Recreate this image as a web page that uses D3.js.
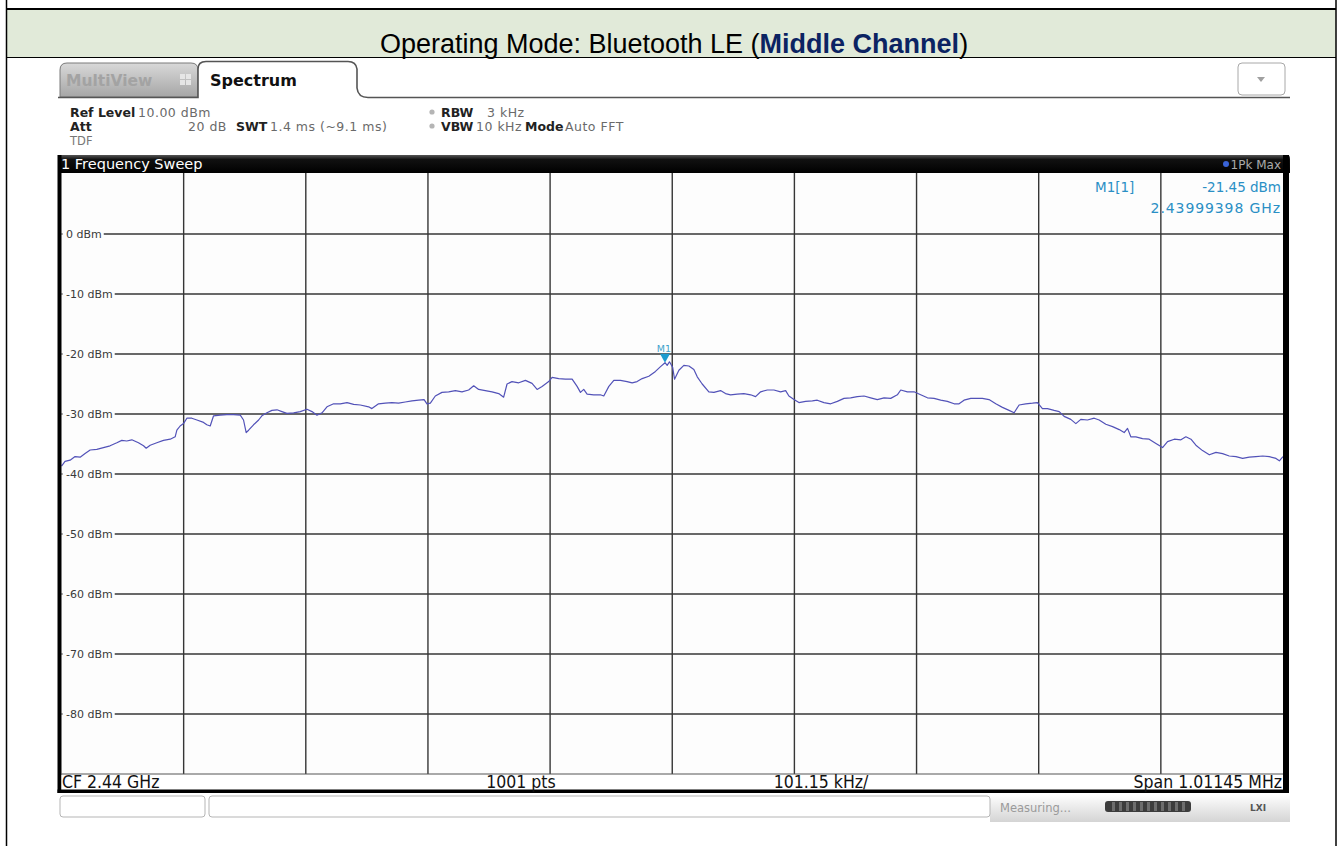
<!DOCTYPE html>
<html><head><meta charset="utf-8">
<script src="https://cdn.jsdelivr.net/npm/d3@7"></script>
<style>
html,body{margin:0;padding:0;background:#fff;}
svg{display:block;}
</style></head><body>
<svg id="c" width="1338" height="846"></svg>
<script>
// ---------------- data ----------------
const titlePlain = "Operating Mode: Bluetooth LE (";
const titleBold = "Middle Channel";
const titleEnd = ")";

const yTickValues = [0, -10, -20, -30, -40, -50, -60, -70, -80];
const yTickLabels = ["0 dBm", "-10 dBm", "-20 dBm", "-30 dBm", "-40 dBm", "-50 dBm", "-60 dBm", "-70 dBm", "-80 dBm"];
const refLevelDBm = 10;
const bottomLevelDBm = -90;
const spanKHz = 1011.45;
const divisions = 10;

// trace: frequency offset from CF (kHz) and level (dBm)
const freqKHz = [
-505.7,-502.8,-498.6,-494.5,-490.3,-486.2,-482.0,-476.5,-471.0,-465.5,-459.9,-455.8,-451.7,-447.5,-442.0,-437.8,-435.6,-432.3,-426.8,-421.3,
-415.7,-411.6,-410.2,-407.5,-404.7,-401.9,-397.8,-393.6,-388.1,-385.4,-382.6,-379.8,-374.3,-368.8,-363.3,-357.7,-355.0,-352.8,-350.8,-346.7,
-342.5,-339.8,-335.6,-331.5,-327.3,-323.2,-319.1,-313.5,-308.0,-302.5,-298.3,-294.2,-290.0,-285.9,-280.4,-274.9,-269.3,-263.8,-258.3,-251.4,
-248.7,-243.2,-237.6,-232.1,-226.6,-221.1,-215.5,-210.0,-205.5,-203.1,-200.3,-196.2,-190.7,-185.1,-179.6,-174.1,-168.6,-164.4,-160.3,-154.8,
-149.2,-143.7,-139.6,-136.8,-132.7,-127.1,-121.6,-116.1,-111.9,-107.8,-102.3,-99.5,-94.0,-88.5,-82.9,-78.8,-76.0,-73.3,-70.5,-65.0,
-59.5,-56.7,-52.5,-48.4,-42.9,-37.4,-33.2,-29.1,-24.9,-19.4,-13.9,-9.7,-6.0,-4.2,-2.3,0.3,1.9,
5.5,9.6,13.8,17.9,20.7,24.8,30.3,34.5,40.0,44.1,48.3,53.8,59.3,64.9,69.0,73.2,78.7,84.2,89.7,93.9,
96.6,100.8,104.9,110.4,116.0,120.1,125.6,131.2,136.7,142.2,147.7,153.2,158.8,164.3,169.8,175.4,180.9,186.4,189.2,194.7,
200.2,205.7,211.3,216.8,222.3,227.8,233.4,237.5,241.6,247.2,254.1,
256.8,262.3,267.9,273.4,278.9,283.1,287.2,292.7,298.3,302.4,306.5,310.7,316.2,320.4,324.5,330.0,334.2,338.3,343.8,349.4,
353.5,359.0,364.6,370.1,374.2,377.0,379.7,383.9,389.4,394.9,400.5,406.0,410.1,415.7,421.2,425.3,429.5,433.6,439.1,444.7,
450.2,455.7,461.2,466.8,472.3,477.8,483.3,488.9,494.4,499.9,502.7,505.7
];
const levelDBm = [
-38.7,-37.9,-37.7,-37.1,-37.2,-36.6,-36.0,-35.9,-35.6,-35.3,-34.8,-34.4,-34.5,-34.3,-34.8,-35.3,-35.7,-35.2,-34.8,-34.4,
-34.2,-33.8,-32.7,-32.0,-31.6,-30.7,-30.7,-31.0,-31.4,-31.8,-32.0,-30.3,-30.2,-30.1,-30.1,-30.2,-31.0,-33.1,-32.7,-31.8,
-31.0,-30.3,-29.8,-29.4,-29.3,-29.6,-29.9,-29.8,-29.6,-29.2,-29.6,-30.2,-29.8,-28.8,-28.3,-28.3,-28.1,-28.4,-28.5,-28.8,
-29.1,-28.3,-28.2,-28.1,-28.2,-28.0,-27.8,-27.7,-27.6,-28.3,-28.2,-27.0,-26.4,-26.3,-26.1,-26.3,-26.0,-25.3,-25.9,-26.1,
-26.3,-26.6,-27.2,-25.0,-24.6,-24.8,-24.4,-24.9,-25.9,-25.4,-24.6,-23.9,-24.1,-24.2,-24.2,-25.4,-26.4,-25.9,-26.7,-26.8,
-26.8,-27.0,-25.4,-24.4,-24.4,-24.6,-24.8,-24.6,-24.1,-23.7,-22.9,-22.1,-21.45,-21.9,-21.3,-22.2,-24.2,
-22.7,-21.9,-22.0,-22.6,-23.8,-25.0,-26.3,-26.4,-26.1,-26.6,-26.8,-26.7,-26.6,-26.8,-27.1,-26.3,-26.0,-26.0,-26.3,-26.1,
-27.0,-27.6,-28.1,-27.9,-27.8,-27.7,-28.1,-28.3,-27.9,-27.4,-27.3,-27.1,-27.0,-27.3,-27.6,-27.3,-27.4,-26.8,-26.0,-26.3,
-26.3,-26.8,-27.3,-27.4,-27.7,-27.9,-28.3,-28.3,-27.7,-27.4,-27.4,
-27.4,-27.6,-28.3,-28.9,-29.4,-29.8,-28.5,-28.3,-28.2,-28.1,-29.1,-29.1,-29.4,-29.6,-30.4,-30.9,-31.6,-30.9,-31.0,-30.7,
-31.0,-31.7,-32.1,-32.6,-33.1,-32.4,-33.8,-33.8,-34.1,-34.2,-34.9,-35.6,-34.6,-34.2,-34.3,-33.8,-34.2,-35.2,-36.1,-36.8,
-36.4,-36.6,-37.0,-37.1,-37.4,-37.2,-37.1,-37.0,-37.1,-37.4,-37.8,-37.1
];

const markerName = "M1";
const markerFreqKHz = -6.02;
const markerLevelDBm = -21.45;
const markerReadout = ["M1[1]", "-21.45 dBm", "2.43999398 GHz"];

const infoRow1 = [["Ref Level", true, 70], ["10.00 dBm", false, 138], ["RBW", true, 441], ["3 kHz", false, 487]];
const infoRow2 = [["Att", true, 70], ["20 dB", false, 188], ["SWT", true, 236], ["1.4 ms (~9.1 ms)", false, 270], ["VBW", true, 441], ["10 kHz", false, 476], ["Mode", true, 525], ["Auto FFT", false, 565]];
const footer = ["CF 2.44 GHz", "1001 pts", "101.15 kHz/", "Span 1.01145 MHz"];

// ---------------- drawing ----------------
const svg = d3.select("#c");
const defs = svg.append("defs");
const g1 = defs.append("linearGradient").attr("id","tabg").attr("x1",0).attr("y1",0).attr("x2",0).attr("y2",1);
g1.append("stop").attr("offset","0").attr("stop-color","#d9d9d9");
g1.append("stop").attr("offset","1").attr("stop-color","#a6a6a6");
const g2 = defs.append("linearGradient").attr("id","barg").attr("x1",0).attr("y1",0).attr("x2",0).attr("y2",1);
g2.append("stop").attr("offset","0").attr("stop-color","#555");
g2.append("stop").attr("offset","0.25").attr("stop-color","#111");
g2.append("stop").attr("offset","1").attr("stop-color","#000");
const g3 = defs.append("linearGradient").attr("id","stg").attr("x1",0).attr("y1",0).attr("x2",0).attr("y2",1);
g3.append("stop").attr("offset","0").attr("stop-color","#ffffff");
g3.append("stop").attr("offset","1").attr("stop-color","#d4d4d4");

// document table frame + green heading
svg.append("rect").attr("x",6).attr("y",9).attr("width",1330).attr("height",48).attr("fill","#e1ead9");
svg.append("line").attr("x1",6).attr("x2",1336).attr("y1",9).attr("y2",9).attr("stroke","#000").attr("stroke-width",2);
svg.append("line").attr("x1",6).attr("x2",1336).attr("y1",57.5).attr("y2",57.5).attr("stroke","#000").attr("stroke-width",1);
svg.append("line").attr("x1",6.5).attr("x2",6.5).attr("y1",0).attr("y2",846).attr("stroke","#000").attr("stroke-width",1.5);
svg.append("line").attr("x1",1336).attr("x2",1336).attr("y1",0).attr("y2",846).attr("stroke","#000").attr("stroke-width",1.5);

const title = svg.append("text").attr("x",674).attr("y",53).attr("text-anchor","middle")
  .attr("font-family","'Liberation Sans', Arial, sans-serif").attr("font-size",27).attr("fill","#000");
title.append("tspan").text(titlePlain);
title.append("tspan").attr("font-weight","bold").attr("fill","#0b2362").text(titleBold);
title.append("tspan").text(titleEnd);

// instrument screenshot chrome
const UI = "'DejaVu Sans', Verdana, sans-serif";
svg.append("path").attr("d","M60,97 V70 Q60,63 67,63 H191 Q198,63 198,70 V97 Z").attr("fill","url(#tabg)").attr("stroke","#7a7a7a").attr("stroke-width",1);
svg.append("text").attr("x",66).attr("y",86).attr("font-family",UI).attr("font-weight","bold").attr("font-size",15.5).attr("fill","#a3a3a3").text("MultiView");
[[180,74],[186,74],[180,80],[186,80]].forEach(p=>svg.append("rect").attr("x",p[0]).attr("y",p[1]).attr("width",5).attr("height",5).attr("fill","#e6e6e6"));
svg.append("path").attr("d","M58,97.5 H198 V69 Q198,61.5 206,61.5 H348 Q356,61.5 357,69 V88 Q358,97.5 368,97.5 H1290")
  .attr("fill","#fff").attr("stroke","#555").attr("stroke-width",1.6);
svg.append("text").attr("x",210).attr("y",86).attr("font-family",UI).attr("font-weight","bold").attr("font-size",16).attr("fill","#111").text("Spectrum");
svg.append("rect").attr("x",1238).attr("y",63).attr("width",47).attr("height",32).attr("rx",4).attr("fill","#fff").attr("stroke","#a8a8a8");
svg.append("path").attr("d","M1257,77 L1265,77 L1261,82 Z").attr("fill","#a0a0a0");

function infoRow(items, yy){
  items.forEach(it=>{
    const t = svg.append("text").attr("x",it[2]).attr("y",yy).attr("font-family",UI)
      .attr("font-weight",it[1]?"bold":"normal").attr("fill",it[1]?"#222":"#6a6a6a").text(it[0]);
    if (it[1]) t.attr("font-size",12.5);
    else t.attr("font-size",12.5).attr("letter-spacing",0.5);
  });
}
infoRow(infoRow1,117);
infoRow(infoRow2,131);
svg.append("text").attr("x",70).attr("y",145).attr("font-family",UI).attr("font-size",11.5).attr("fill","#777").text("TDF");
[[432,112],[432,126]].forEach(p=>svg.append("circle").attr("cx",p[0]).attr("cy",p[1]).attr("r",2.6).attr("fill","#b5b5b5"));

svg.append("path").attr("d","M58,173 V158 Q58,155 61,155 H1287 Q1290,155 1290,158 V173 Z").attr("fill","url(#barg)");
svg.append("text").attr("x",61).attr("y",169).attr("font-family",UI).attr("font-size",14.5).attr("fill","#fff").text("1 Frequency Sweep");
svg.append("circle").attr("cx",1226).attr("cy",164).attr("r",3).attr("fill","#3a64d8");
svg.append("text").attr("x",1281).attr("y",169).attr("text-anchor","end").attr("font-family",UI).attr("font-size",12).attr("fill","#aaa").text("1Pk Max");

// plot area
const pL = 61.5, pR = 1283, pT = 174, pB = 774;
const x = d3.scaleLinear().domain([-spanKHz/2, spanKHz/2]).range([pL, pR]);
const y = d3.scaleLinear().domain([bottomLevelDBm, refLevelDBm]).range([pB, pT]);

svg.append("rect").attr("x",pL).attr("y",173).attr("width",pR-pL).attr("height",pB-173).attr("fill","#fdfdfd");

const vTicks = d3.range(divisions+1).map(i => -spanKHz/2 + i*spanKHz/divisions);
const grid = svg.append("g");
grid.selectAll("line.v").data(vTicks.slice(1,-1)).join("line")
  .attr("x1",d=>x(d)).attr("x2",d=>x(d)).attr("y1",173).attr("y2",pB)
  .attr("stroke","#363636").attr("stroke-width",1.4);
grid.selectAll("line.h").data(yTickValues).join("line")
  .attr("x1",pL).attr("x2",pR).attr("y1",d=>y(d)).attr("y2",d=>y(d))
  .attr("stroke","#363636").attr("stroke-width",1.4);
svg.append("line").attr("x1",pL).attr("x2",pR).attr("y1",pB).attr("y2",pB).attr("stroke","#555").attr("stroke-width",1);

const yl = svg.append("g");
yTickValues.forEach((v,i)=>{
  const t = yl.append("text").attr("x",66).attr("y",y(v)+4).attr("font-family",UI).attr("font-size",11).attr("fill","#3a3a3a").text(yTickLabels[i]);
  const bb = t.node().getBBox();
  yl.insert("rect","text").attr("x",pL+1).attr("y",bb.y-1).attr("width",bb.x+bb.width-pL+1).attr("height",bb.height+2).attr("fill","#fdfdfd");
});

const pts = freqKHz.map((f,i)=>[f, levelDBm[i]]);
const line = d3.line().x(d=>x(d[0])).y(d=>y(d[1]));
svg.append("path").datum(pts).attr("d",line).attr("fill","none").attr("stroke","#5252b8").attr("stroke-width",1.2).attr("stroke-linejoin","round");

const mx = x(markerFreqKHz), my = y(markerLevelDBm);
svg.append("path").attr("d",`M${mx-5},${my-9} L${mx+5},${my-9} L${mx},${my} Z`).attr("fill","#1c9ccf");
svg.append("text").attr("x",mx-1).attr("y",my-11).attr("text-anchor","middle").attr("font-family",UI).attr("font-size",9.5).attr("fill","#3fa3cc").text(markerName);

svg.append("text").attr("x",1095).attr("y",192).attr("font-family",UI).attr("font-size",13.5).attr("fill","#2a8fc5").text(markerReadout[0]);
svg.append("text").attr("x",1281).attr("y",192).attr("text-anchor","end").attr("font-family",UI).attr("font-size",13.5).attr("fill","#2a8fc5").text(markerReadout[1]);
svg.append("text").attr("x",1281).attr("y",213).attr("text-anchor","end").attr("font-family",UI).attr("font-size",14).attr("letter-spacing",0.9).attr("fill","#2a8fc5").text(markerReadout[2]);

svg.append("rect").attr("x",57.5).attr("y",155).attr("width",4).attr("height",638).attr("fill","#000");
svg.append("rect").attr("x",1283).attr("y",155).attr("width",6).attr("height",638).attr("fill","#000");

svg.append("rect").attr("x",61.5).attr("y",775).attr("width",1221.5).attr("height",15).attr("fill","#fff");
svg.append("rect").attr("x",57.5).attr("y",789.5).attr("width",1231.5).attr("height",3.5).attr("fill","#000");
const FF = "'DejaVu Sans Condensed','Liberation Sans Narrow','DejaVu Sans',sans-serif";
svg.append("text").attr("x",62).attr("y",788).attr("font-family",FF).attr("font-size",17.5).attr("fill","#111").text(footer[0]);
svg.append("text").attr("x",521).attr("y",788).attr("text-anchor","middle").attr("font-family",FF).attr("font-size",17.5).attr("fill","#111").text(footer[1]);
svg.append("text").attr("x",821).attr("y",788).attr("text-anchor","middle").attr("font-family",FF).attr("font-size",17.5).attr("fill","#111").text(footer[2]);
svg.append("text").attr("x",1282).attr("y",788).attr("text-anchor","end").attr("font-family",FF).attr("font-size",17.5).attr("fill","#111").text(footer[3]);

svg.append("rect").attr("x",990).attr("y",794).attr("width",300).attr("height",28).attr("fill","url(#stg)");
svg.append("rect").attr("x",60).attr("y",796).attr("width",145).attr("height",21).attr("rx",3).attr("fill","#fff").attr("stroke","#b5b5b5");
svg.append("rect").attr("x",209).attr("y",796).attr("width",781).attr("height",21).attr("rx",3).attr("fill","#fff").attr("stroke","#b5b5b5");
svg.append("text").attr("x",1000).attr("y",812).attr("font-family",UI).attr("font-size",11.5).attr("fill","#9a9a9a").text("Measuring...");
svg.append("rect").attr("x",1105).attr("y",801).attr("width",86).attr("height",11).attr("rx",3).attr("fill","#3c3c3c");
d3.range(1112,1188,7).forEach(v=>svg.append("rect").attr("x",v).attr("y",802).attr("width",3).attr("height",9).attr("fill","#6d6d6d"));
svg.append("text").attr("x",1250).attr("y",811).attr("font-family",UI).attr("font-weight","bold").attr("font-size",9).attr("fill","#555").text("LXI");
</script>
</body></html>
